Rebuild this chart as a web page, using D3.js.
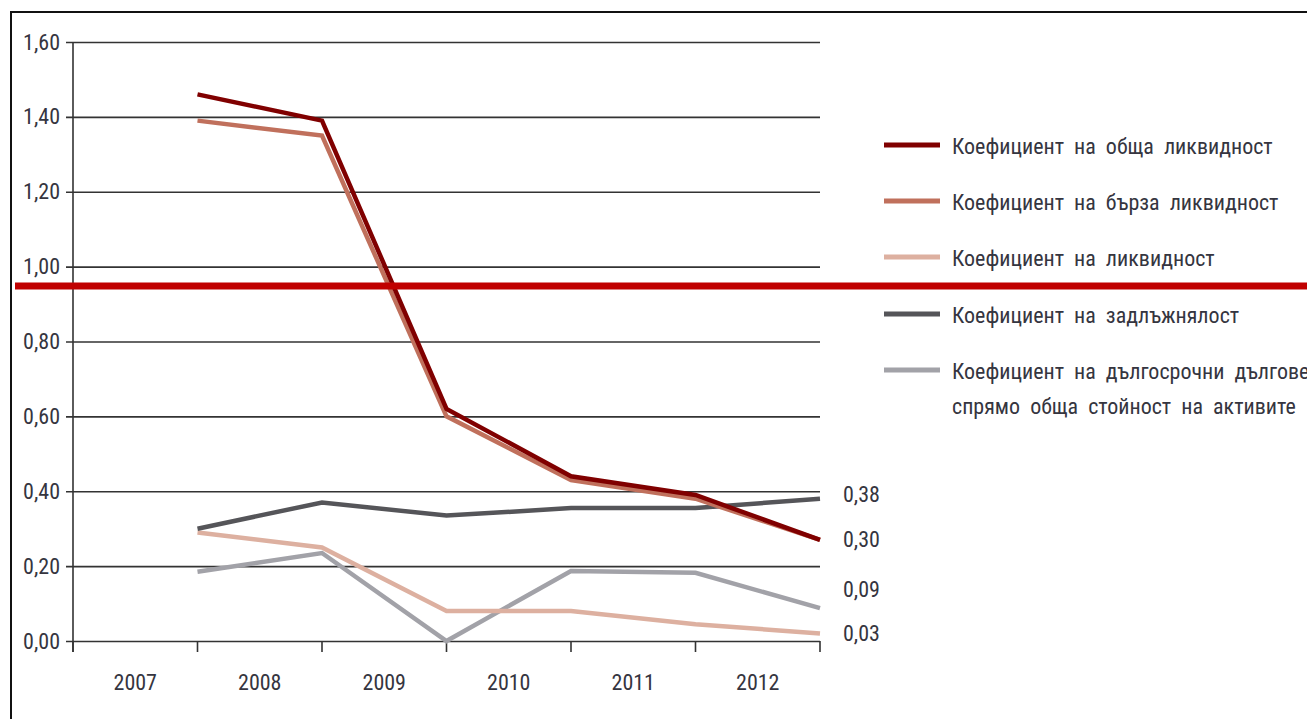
<!DOCTYPE html>
<html>
<head>
<meta charset="utf-8">
<script src="https://cdn.jsdelivr.net/npm/d3@7"></script>
<style>
  body { margin: 0; background: #fff; }
  svg text { font-family: "Liberation Sans Narrow", "Roboto Condensed", "DejaVu Sans Condensed", sans-serif; fill: #353540; }
</style>
</head>
<body>
<div id="chart"></div>
<script>
const years = [2007, 2008, 2009, 2010, 2011, 2012];
const yTicks = [0, 0.2, 0.4, 0.6, 0.8, 1.0, 1.2, 1.4, 1.6];

const seriesNames = [
  'Коефициент на обща ликвидност',
  'Коефициент на бърза ликвидност',
  'Коефициент на ликвидност',
  'Коефициент на задлъжнялост',
  'Коефициент на дългосрочни дългове|спрямо обща стойност на активите'
];
const seriesColors = ['#800000', '#c0705c', '#ddb0a0', '#555559', '#a2a2a8'];

const totalLiquidity = [1.46, 1.39, 0.62, 0.44, 0.39, 0.27];
const quickLiquidity = [1.39, 1.35, 0.60, 0.43, 0.38, 0.27];
const liquidity = [0.29, 0.25, 0.08, 0.08, 0.045, 0.02];
const debtRatio = [0.30, 0.37, 0.335, 0.355, 0.355, 0.38];
const longTermDebt = [0.185, 0.235, 0.0, 0.187, 0.182, 0.088];

const endLabels = ['0,38', '0,30', '0,09', '0,03'];
const endLabelValues = [0.39, 0.27, 0.135, 0.02];

const thresholdValue = 0.948;

const W = 1307, H = 719;
const svg = d3.select('#chart').append('svg').attr('width', W).attr('height', H);

// frame (cut at right/bottom)
svg.append('path')
  .attr('d', 'M11,' + H + ' V12 H' + W)
  .attr('fill', 'none').attr('stroke', '#111').attr('stroke-width', 2);

const x = d3.scaleBand().domain(years).range([73, 820]).padding(0);
const y = d3.scaleLinear().domain([0, 1.6]).range([641, 42]);
const bw = x.bandwidth();
const px = (d, i) => x(years[i]) + bw;

// gridlines with outer ticks
const yAxis = d3.axisLeft(y).tickValues(yTicks)
  .tickSize(-(820 - 73)).tickSizeOuter(0)
  .tickFormat(d => d.toFixed(2).replace('.', ','));
const gy = svg.append('g').attr('transform', 'translate(73,0)').call(yAxis);
gy.select('.domain').remove();
gy.selectAll('.tick line').attr('x1', -7).attr('stroke', '#333').attr('stroke-width', 1.6);
gy.selectAll('.tick text').attr('x', -13).attr('dy', '0.32em').style('font-size', '22px');

// y axis line
svg.append('line').attr('x1', 73).attr('x2', 73).attr('y1', 42).attr('y2', 652)
  .attr('stroke', '#333').attr('stroke-width', 1.6);

// x tick marks at band edges
const edges = [years[0]].concat(years);
svg.append('g').selectAll('line').data(edges).join('line')
  .attr('x1', (d, i) => i === 0 ? x(d) : x(d) + bw)
  .attr('x2', (d, i) => i === 0 ? x(d) : x(d) + bw)
  .attr('y1', 641).attr('y2', 652)
  .attr('stroke', '#333').attr('stroke-width', 1.6);

const xAxis = d3.axisBottom(x).tickSize(0);
const gx = svg.append('g').attr('transform', 'translate(0,641)').call(xAxis);
gx.select('.domain').remove();
gx.selectAll('.tick text').attr('y', 42).attr('dy', '0.32em').style('font-size', '22px');

// lines
const seriesData = [totalLiquidity, quickLiquidity, liquidity, debtRatio, longTermDebt];
const line = d3.line().x(px).y(d => y(d));
const drawOrder = [4, 2, 3, 1, 0];
drawOrder.forEach(k => {
  svg.append('path').datum(seriesData[k])
    .attr('fill', 'none').attr('stroke', seriesColors[k])
    .attr('stroke-width', 4.5).attr('stroke-linejoin', 'miter')
    .attr('d', line);
});

// end labels
svg.append('g').selectAll('text').data(endLabels).join('text')
  .attr('x', 843).attr('y', (d, i) => y(endLabelValues[i]))
  .attr('dy', '0.32em').style('font-size', '22px')
  .text(d => d);

// threshold line
svg.append('line').attr('x1', 15).attr('x2', W)
  .attr('y1', y(thresholdValue)).attr('y2', y(thresholdValue))
  .attr('stroke', '#c00000').attr('stroke-width', 7);

// legend
const legendY = [145, 201, 257, 314, 370];
const legend = svg.append('g');
seriesNames.forEach((name, i) => {
  legend.append('line').attr('x1', 884).attr('x2', 940)
    .attr('y1', legendY[i]).attr('y2', legendY[i])
    .attr('stroke', seriesColors[i]).attr('stroke-width', 5);
  name.split('|').forEach((part, j) => {
    legend.append('text').attr('x', 952).attr('y', legendY[i] + 2 + j * 35)
      .attr('dy', '0.32em').style('font-size', '22px').style('word-spacing', '5px')
      .text(part);
  });
});
</script>
</body>
</html>
